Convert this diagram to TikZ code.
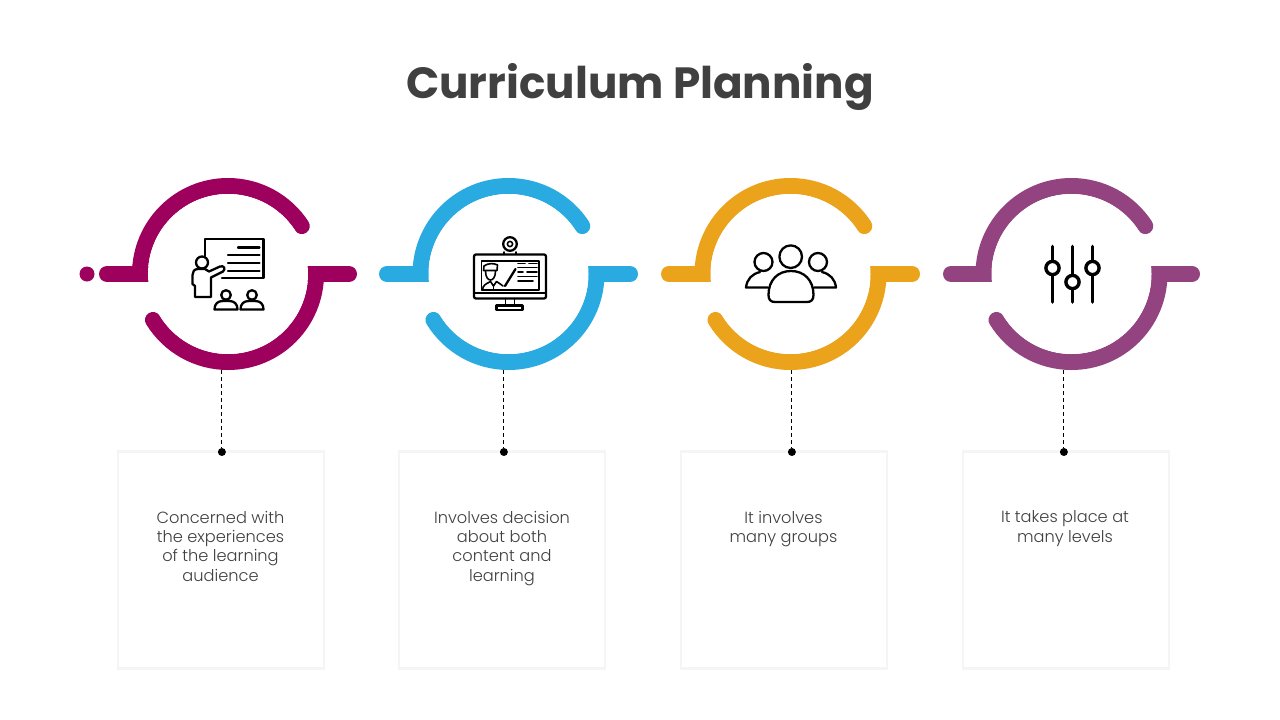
\documentclass[tikz,border=0pt]{standalone}
\usepackage{fontspec}
\setmainfont{Poppins Light}
\newfontfamily\titlefont{Poppins Bold}
\definecolor{cA}{HTML}{9E005D}
\definecolor{cB}{HTML}{29ABE2}
\definecolor{cC}{HTML}{EBA31C}
\definecolor{cD}{HTML}{93437F}
\definecolor{ink}{HTML}{404040}
\definecolor{edge}{HTML}{F5F5F5}
\tikzset{
  ringline/.style={line width=16pt,line cap=round},
  disc/.style={circle,fill=white,draw=none,minimum size=160pt,inner sep=0pt},
  card/.style={rectangle,draw=edge,line width=2.4pt,fill=white,minimum width=206pt,minimum height=217pt,inner sep=0pt},
  cardtext/.style={anchor=north,align=center,text=ink,inner sep=0pt,font=\fontsize{16.2}{19.4}\selectfont},
  pin/.style={circle,fill=black,minimum size=8pt,inner sep=0pt},
  leader/.style={dash pattern=on 4pt off 3pt,line width=0.9pt,black},
  icon/.style={line width=2.3pt,black,line join=round,line cap=round},
  iconthin/.style={line width=1.6pt,black,line join=round,line cap=round},
}
\begin{document}
\begin{tikzpicture}[x=1pt,y=1pt,yscale=-1]
\useasboundingbox (0,0) rectangle (1280,720);
\fill[white] (0,0) rectangle (1280,720);
\node[font=\titlefont\fontsize{43.7}{50}\selectfont,text=ink,inner sep=0pt] (title) at (640,87.5) {Curriculum Planning};

\fill[cA] (87,274) circle (7.5pt);
% rings
\foreach \n/\cx/\col/\lx/\rx in {1/228/cA/107/349,2/508.5/cB/387/630,3/790.5/cC/669/912,4/1071.5/cD/951/1192}{
  \draw[ringline,\col] (\lx,274) -- (\cx-80,274);
  \draw[ringline,\col] (\cx+80,274) -- (\rx,274);
  \draw[ringline,\col] (\cx-88,274) arc[start angle=180,end angle=327,radius=88pt];
  \draw[ringline,\col] (\cx+88,274) arc[start angle=0,end angle=148.5,radius=88pt];
  \node[disc] (ring\n) at (\cx,274) {};
}
% cards, pins, leaders
\foreach \n/\cardx/\pinx in {1/221/221.9,2/502/503.9,3/784/791.9,4/1066/1063.9}{
  \node[card] (card\n) at (\cardx,560) {};
  \node[pin] (pin\n) at (\pinx,452) {};
  \coordinate (lead\n) at (\pinx,370);
  \draw[leader] (lead\n) -- (pin\n);
}
\node[cardtext] (t1) at (220.5,510.8) {Concerned with\\the experiences\\of the learning\\audience};
\node[cardtext] (t2) at (502,510.8) {Involves decision\\about both\\content and\\learning};
\node[cardtext] (t3) at (783.5,510.8) {It involves\\many groups};
\node[cardtext] (t4) at (1065,510.8) {It takes place at\\many levels};

% icon 1: teacher
\draw[icon] (204.7,256) -- (204.7,239) -- (263.5,239) -- (263.5,278) -- (222,278);
\draw[icon] (238,247.5) -- (259.5,247.5) (228,255) -- (259.5,255) (228,263) -- (259.5,263) (228,271) -- (259.5,271);
\draw[icon] (202,262.5) circle (6pt);
\draw[icon] (198,269) .. controls (194,269) and (192.5,272) .. (192.5,275) -- (192.5,284) -- (195,286) -- (195,297) -- (211,297) -- (211,277.5) -- (223,271.5) .. controls (226,269) and (224,265) .. (220,266.5) -- (209,271.5) -- (205,269) -- cycle;
\foreach \hx in {226,252}{
  \draw[icon] (\hx,295) circle (4.8pt);
  \draw[icon] (\hx-11.5,309.5) .. controls (\hx-11.5,303.5) and (\hx-8,301) .. (\hx-3,301) -- (\hx+3,301) .. controls (\hx+8,301) and (\hx+11.5,303.5) .. (\hx+11.5,309.5) -- cycle;
}
% icon 2: monitor
\draw[icon] (510,244) circle (6.8pt);
\draw[iconthin] (510,244) circle (2.6pt);
\draw[iconthin] (504,252) -- (504,254) (516,252) -- (516,254);
\draw[icon,rounded corners=2pt] (474,254.5) rectangle (546,298.5);
\draw[iconthin] (474,293) -- (546,293);
\draw[iconthin] (481.5,261) rectangle (539,290);
\draw[iconthin] (505.5,298.5) -- (505.5,305.5) (514.5,298.5) -- (514.5,305.5);
\draw[icon] (496.5,305.5) rectangle (522.5,310);
\draw[iconthin] (483.5,270.5) -- (484,266) .. controls (488,263) and (494,263) .. (497.5,265) -- (497,270.5) -- cycle;
\draw[iconthin] (485.5,271) .. controls (485.5,283) and (495.5,283) .. (495.5,271);
\draw[iconthin] (482.5,289.5) .. controls (483,285) and (486,284) .. (490.5,281.5) -- (493.5,286) -- (496.5,281.5) .. controls (499,283) and (501,284.5) .. (503,286);
\draw[iconthin] (493.5,286) -- (493.5,289.5);
\draw[icon] (505,286) -- (515.5,269);
\draw[iconthin] (518,263.5) -- (525,263.5) (529,263.5) -- (537,263.5) (518,267.5) -- (537,267.5) (527,272) -- (537,272) (518,272) -- (523,272) (518,276.5) -- (537,276.5) (518,281) -- (533,281);
% icon 3: group
\draw[icon] (790.7,256.7) circle (11.3pt);
\draw[icon] (763.5,262) circle (9pt);
\draw[icon] (818,262) circle (9pt);
\draw[icon] (768,287.5) -- (746,287.5) .. controls (747,279) and (752,274) .. (760,272);
\draw[icon] (814,287.5) -- (836,287.5) .. controls (835,279) and (830,274) .. (822,272);
\draw[icon,fill=white] (768.5,295) .. controls (768.5,280) and (778,271) .. (791,271) .. controls (804,271) and (813.5,280) .. (813.5,295) .. controls (813.5,300) and (811,302) .. (807,302) -- (775,302) .. controls (771,302) and (768.5,300) .. (768.5,295) -- cycle;
% icon 4: sliders
\foreach \sx/\sy in {1052.5/268,1072.5/282,1092.5/268}{
  \draw[line width=3.6pt,black,line cap=round] (\sx,246.5) -- (\sx,302);
  \draw[line width=3.4pt,black,fill=white] (\sx,\sy) circle (6.6pt);
}
\end{tikzpicture}
\end{document}
